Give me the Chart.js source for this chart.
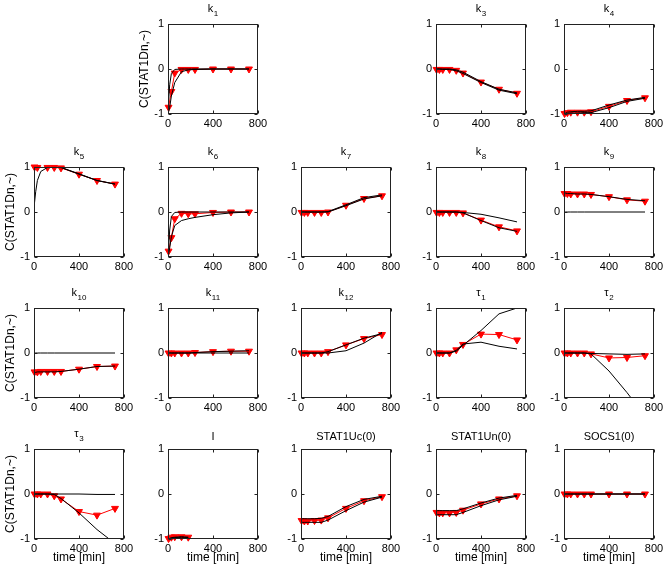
<!DOCTYPE html>
<html><head><meta charset="utf-8">
<script src="https://cdn.jsdelivr.net/npm/chart.js@4.4.0/dist/chart.umd.min.js"></script>
<style>
body{margin:0;background:#fff;width:667px;height:575px;overflow:hidden;position:relative}
canvas{position:absolute}
</style>
</head><body>
<script>
// ---------- data ----------
const timeRed  = [5, 30, 60, 120, 180, 240, 400, 560, 720];
const timeBand = [0, 15, 30, 60, 120, 180, 240, 400, 560, 720];
const xTicks = [0, 400, 800];
const yTicks = [-1, 0, 1];

const k1_red = [-0.85, -0.5, -0.09, -0.01, -0.01, -0.01, 0, 0, 0];
const k1_b1  = [-0.9, -0.35, -0.1, -0.01, 0, 0, 0, 0, 0, 0];
const k1_b2  = [-1, -0.85, -0.6, -0.3, -0.06, -0.02, -0.01, 0, 0, 0];

const k3_red = [-0.01, -0.01, -0.01, -0.01, -0.03, -0.09, -0.29, -0.45, -0.54];
const k3_b1  = [0, 0, 0, 0, 0, -0.02, -0.07, -0.28, -0.45, -0.53];
const k3_b2  = [0, 0, 0, -0.01, -0.01, -0.04, -0.1, -0.3, -0.47, -0.55];

const k4_red = [-0.99, -0.97, -0.96, -0.96, -0.96, -0.95, -0.83, -0.7, -0.64];
const k4_b1  = [-1, -0.98, -0.96, -0.95, -0.94, -0.94, -0.93, -0.8, -0.69, -0.63];
const k4_b2  = [-1, -1, -0.99, -0.98, -0.98, -0.97, -0.97, -0.86, -0.72, -0.65];

const k5_red = [1.0, 0.99, null, 0.99, 0.99, 0.98, 0.84, 0.7, 0.62];
const k5_b1  = [0.1, 0.45, 0.7, 0.9, 0.99, 1, 0.99, 0.85, 0.7, 0.62];
const k5_b2  = [1, 1, 1, 1, 1, 1, 0.99, 0.84, 0.7, 0.62];

const k6_red = [-0.87, -0.57, -0.15, -0.03, -0.04, -0.04, -0.01, 0, 0];
const k6_b1  = [-1, -0.4, -0.1, -0.01, 0, 0, 0, 0, 0, 0];
const k6_b2  = [-1, -0.8, -0.55, -0.3, -0.19, -0.15, -0.12, -0.06, -0.02, 0];

const k7_red = [-0.01, -0.01, -0.01, -0.01, -0.01, 0, 0.15, 0.3, 0.36];
const k7_b1  = [0, 0, 0, 0, 0, 0, 0.01, 0.16, 0.32, 0.38];
const k7_b2  = [0, 0, 0, 0, 0, 0, 0, 0.14, 0.29, 0.36];

const k8_red = [-0.01, -0.01, -0.01, -0.01, -0.01, -0.02, -0.18, -0.33, -0.42];
const k8_b1  = [0, 0, 0, 0, 0, 0, -0.01, -0.05, -0.13, -0.22];
const k8_b2  = [0, 0, 0, 0, 0, 0, -0.02, -0.19, -0.35, -0.43];

const k9_red = [0.41, 0.41, 0.4, 0.4, 0.4, 0.39, 0.34, 0.27, 0.24];
const k9_b1  = [0.42, 0.42, 0.41, 0.41, 0.4, 0.4, 0.39, 0.34, 0.28, 0.25];
const k9_b2  = [0, 0, 0, 0, 0, 0, 0, 0, 0, 0];

const k10_red = [-0.42, -0.42, -0.41, -0.41, -0.41, -0.41, -0.36, -0.3, -0.29];
const k10_b1  = [0, 0, 0, 0, 0, 0, 0, 0, 0, 0];
const k10_b2  = [-0.43, -0.43, -0.42, -0.42, -0.42, -0.42, -0.41, -0.36, -0.3, -0.29];

const k11_red = [0, 0, 0, 0, 0, 0.01, 0.03, 0.04, 0.04];
const k11_b1  = [0, 0, 0, 0, 0, 0, 0.01, 0.03, 0.04, 0.05];
const k11_b2  = [0, 0, 0, 0, 0, 0, 0, 0, 0, 0];

const k12_red = [0, 0, 0, 0, 0, 0.03, 0.18, 0.32, 0.41];
const k12_b1  = [0, 0, 0, 0, 0, 0, 0.03, 0.18, 0.33, 0.43];
const k12_b2  = [0, 0, 0, 0, 0, 0, 0, 0.05, 0.22, 0.46];

const tau1_red = [0, 0, 0, 0, 0.07, 0.19, 0.42, 0.41, 0.29];
const tau1_b1  = [0, 0, 0, 0, 0, 0.04, 0.17, 0.5, 0.87, 1.0];
const tau1_b2  = [0, 0, 0, 0, 0, 0.06, 0.2, 0.24, 0.15, 0.09];

const tau2_red = [0, 0, 0, 0, 0, -0.02, -0.11, -0.1, -0.06];
const tau2_b1  = [0, 0, 0, 0, 0, 0, -0.01, -0.02, -0.03, -0.02];
const tau2_b2  = [0, 0, 0, 0, 0, 0, -0.02, -0.4, -0.88, -1.4];

const tau3_red = [0, 0, 0, 0, -0.04, -0.11, -0.39, -0.47, -0.32];
const tau3_b1  = [0, 0, 0, 0, 0, 0, 0, 0, -0.01, -0.01];
const tau3_b2  = [0, 0, 0, 0, 0, -0.01, -0.1, -0.42, -0.79, -1.1];

const I_red = [-0.99, -0.96, -0.95, -0.95, -0.96, null, null, null, null];
const I_b1  = [-1, -0.99, -0.97, -0.96, -0.95, -0.96, null, null, null, null];
const I_b2  = [-1, -0.99, -0.98, -0.97, -0.96, -0.97, null, null, null, null];

const uc_red = [-0.59, -0.6, -0.6, -0.59, -0.58, -0.53, -0.32, -0.15, -0.06];
const uc_b1  = [-0.55, -0.55, -0.55, -0.55, -0.55, -0.54, -0.5, -0.28, -0.12, -0.05];
const uc_b2  = [-0.63, -0.63, -0.63, -0.63, -0.63, -0.63, -0.58, -0.37, -0.18, -0.07];

const un_red = [-0.41, -0.42, -0.42, -0.42, -0.41, -0.36, -0.22, -0.11, -0.04];
const un_b1  = [-0.37, -0.37, -0.37, -0.37, -0.37, -0.37, -0.33, -0.2, -0.09, -0.03];
const un_b2  = [-0.46, -0.46, -0.46, -0.46, -0.46, -0.46, -0.41, -0.26, -0.13, -0.05];

const socs_red = [0, 0, 0, 0, 0, 0, 0, 0, 0];
const socs_b1  = [0, 0, 0, 0, 0, 0, 0, 0, 0, 0];
const socs_b2  = [0, 0, 0, 0, 0, 0, 0, 0, 0, 0];

const yLabel = 'C(STAT1Dn,~)';
const xLabel = 'time [min]';

// title: base text + subscript
const panels = [
  {title:['k','1'], row:0, col:1, red:k1_red, b1:k1_b1, b2:k1_b2},
  {title:['k','3'], row:0, col:3, red:k3_red, b1:k3_b1, b2:k3_b2},
  {title:['k','4'], row:0, col:4, red:k4_red, b1:k4_b1, b2:k4_b2},
  {title:['k','5'], row:1, col:0, red:k5_red, b1:k5_b1, b2:k5_b2},
  {title:['k','6'], row:1, col:1, red:k6_red, b1:k6_b1, b2:k6_b2},
  {title:['k','7'], row:1, col:2, red:k7_red, b1:k7_b1, b2:k7_b2},
  {title:['k','8'], row:1, col:3, red:k8_red, b1:k8_b1, b2:k8_b2},
  {title:['k','9'], row:1, col:4, red:k9_red, b1:k9_b1, b2:k9_b2},
  {title:['k','10'], row:2, col:0, red:k10_red, b1:k10_b1, b2:k10_b2},
  {title:['k','11'], row:2, col:1, red:k11_red, b1:k11_b1, b2:k11_b2},
  {title:['k','12'], row:2, col:2, red:k12_red, b1:k12_b1, b2:k12_b2},
  {title:['τ','1'], row:2, col:3, red:tau1_red, b1:tau1_b1, b2:tau1_b2},
  {title:['τ','2'], row:2, col:4, red:tau2_red, b1:tau2_b1, b2:tau2_b2},
  {title:['τ','3'], row:3, col:0, red:tau3_red, b1:tau3_b1, b2:tau3_b2},
  {title:['I',''], row:3, col:1, red:I_red, b1:I_b1, b2:I_b2},
  {title:['STAT1Uc(0)',''], row:3, col:2, red:uc_red, b1:uc_b1, b2:uc_b2},
  {title:['STAT1Un(0)',''], row:3, col:3, red:un_red, b1:un_b1, b2:un_b2},
  {title:['SOCS1(0)',''], row:3, col:4, red:socs_red, b1:socs_b1, b2:socs_b2},
];

// ---------- layout ----------
const colLeft = [34, 168, 301, 436, 564];
const rowTop = [24, 167, 308, 449];
const PLOT = 90, AXW = 34, TITLEH = 24, XAXH = 36, PADR = 16;
const FONT = "'Liberation Sans', Arial, sans-serif";

const framePlugin = {
  id: 'frame',
  afterDatasetsDraw(chart) {
    const {ctx, chartArea: a, scales: {x, y}} = chart;
    ctx.save();
    ctx.strokeStyle = '#222';
    ctx.lineWidth = 1;
    const L = Math.round(a.left) + 0.5, R = Math.round(a.right) - 0.5;
    const T = Math.round(a.top) + 0.5, B = Math.round(a.bottom) - 0.5;
    ctx.strokeRect(L, T, R - L, B - T);
    ctx.beginPath();
    xTicks.forEach(v => {
      const px = Math.round(x.getPixelForValue(v)) + 0.5;
      ctx.moveTo(px, B); ctx.lineTo(px, B - 3);
      ctx.moveTo(px, T); ctx.lineTo(px, T + 3);
    });
    yTicks.forEach(v => {
      const py = Math.round(y.getPixelForValue(v)) + 0.5;
      ctx.moveTo(L, py); ctx.lineTo(L + 3, py);
      ctx.moveTo(R, py); ctx.lineTo(R - 3, py);
    });
    ctx.stroke();
    ctx.restore();
  }
};

const subTitlePlugin = {
  id: 'subTitle',
  afterDraw(chart, args, opts) {
    const {ctx, chartArea: a} = chart;
    const [base, sub] = opts.parts;
    ctx.save();
    ctx.fillStyle = '#000';
    ctx.textBaseline = 'alphabetic';
    ctx.textAlign = 'left';
    ctx.font = `11px ${FONT}`;
    const wb = ctx.measureText(base).width;
    ctx.font = `8px ${FONT}`;
    const ws = sub ? ctx.measureText(sub).width + 0.5 : 0;
    const cx = (a.left + a.right) / 2;
    const x0 = cx - (wb + ws) / 2;
    const baseY = sub ? a.top - 12 : a.top - 9;
    ctx.font = `11px ${FONT}`;
    ctx.fillText(base, x0, baseY);
    if (sub) {
      ctx.font = `8px ${FONT}`;
      ctx.fillText(sub, x0 + wb + 0.5, a.top - 8.5);
    }
    ctx.restore();
  }
};

function toXY(ts, vs) { return ts.map((t, i) => ({x: t, y: vs[i]})); }

panels.forEach(p => {
  const c = document.createElement('canvas');
  const W = AXW + PLOT + PADR, H = TITLEH + PLOT + XAXH;
  c.width = W; c.height = H;
  c.style.width = W + 'px'; c.style.height = H + 'px';
  c.style.left = (colLeft[p.col] - AXW) + 'px';
  c.style.top = (rowTop[p.row] - TITLEH) + 'px';
  document.body.appendChild(c);
  const showY = p.col === 0 || (p.row === 0 && p.col === 1);
  const showX = p.row === 3;
  new Chart(c, {
    type: 'line',
    data: {
      datasets: [
        {data: toXY(timeBand, p.b1), borderColor: '#000', borderWidth: 1, pointRadius: 0, spanGaps: false},
        {data: toXY(timeBand, p.b2), borderColor: '#000', borderWidth: 1, pointRadius: 0, spanGaps: false},
        {data: toXY(timeRed, p.red), borderColor: '#ff0000', backgroundColor: '#ff0000', borderWidth: 1,
         pointStyle: 'triangle', rotation: 180, pointRadius: 4, pointBorderWidth: 1, spanGaps: true, clip: 8}
      ]
    },
    options: {
      responsive: false, animation: false, events: [],
      layout: {padding: {left: 0, right: PADR, top: TITLEH, bottom: 0}},
      plugins: {
        legend: {display: false}, tooltip: {enabled: false}, title: {display: false},
        subTitle: {parts: p.title}
      },
      scales: {
        x: {type: 'linear', min: 0, max: 800,
            afterBuildTicks: s => { s.ticks = xTicks.map(v => ({value: v})); },
            afterFit: s => { s.height = XAXH; s.paddingRight = 0; s.paddingLeft = 0; },
            grid: {display: false, drawTicks: false}, border: {display: false},
            ticks: {color: '#000', font: {family: FONT, size: 11}, padding: 3, maxRotation: 0, autoSkip: false},
            title: {display: showX, text: xLabel, color: '#000', font: {family: FONT, size: 12}, padding: {top: 0, bottom: 10}}},
        y: {type: 'linear', min: -1, max: 1,
            afterBuildTicks: s => { s.ticks = yTicks.map(v => ({value: v})); },
            afterFit: s => { s.width = AXW; },
            grid: {display: false, drawTicks: false}, border: {display: false},
            ticks: {color: '#000', font: {family: FONT, size: 11}, padding: 4, autoSkip: false},
            title: {display: showY, text: yLabel, color: '#000', font: {family: FONT, size: 12}, padding: {top: 3, bottom: 0}}}
      }
    },
    plugins: [framePlugin, subTitlePlugin]
  });
});
</script>
</body></html>
